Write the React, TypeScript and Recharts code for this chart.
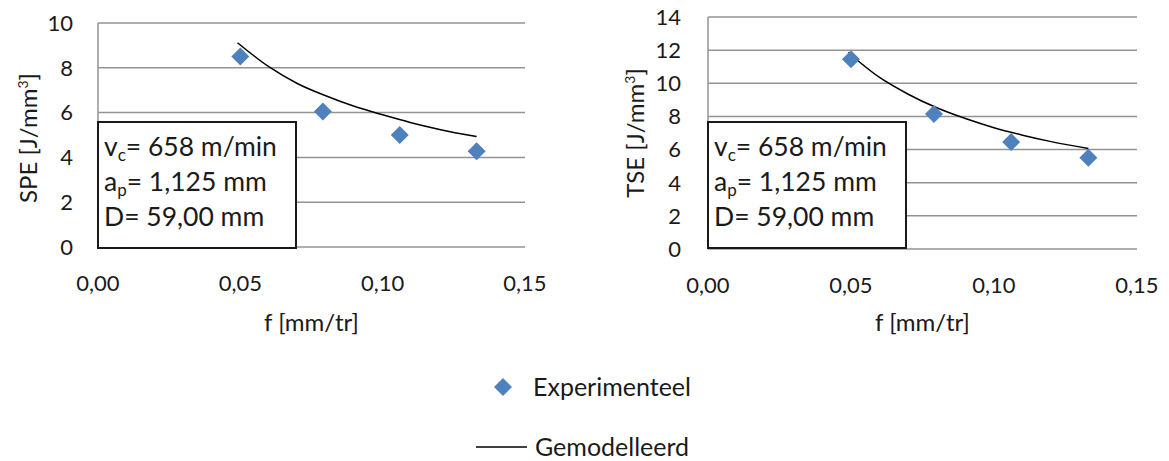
import React from "react"
import { ComposedChart, Line, Scatter, XAxis, YAxis, CartesianGrid } from "recharts"

// feed values for the measured points
const feed = [0.05, 0.079, 0.106, 0.133]
const speMeasured = [8.5, 6.05, 5.0, 4.28]
const tseMeasured = [11.45, 8.15, 6.45, 5.5]

// modelled curve
const fitFeed = [0.049, 0.06, 0.07, 0.08, 0.09, 0.1, 0.11, 0.12, 0.133]
const speModel = [9.12, 8.05, 7.3, 6.75, 6.28, 5.9, 5.55, 5.25, 4.93]
const tseModel = [11.86, 10.35, 9.34, 8.52, 7.87, 7.32, 6.87, 6.48, 6.07]

const xTicks = [0, 0.05, 0.1, 0.15]
const speTicks = [0, 2, 4, 6, 8, 10]
const tseTicks = [0, 2, 4, 6, 8, 10, 12, 14]

const FONT = "Lato, 'Open Sans', sans-serif"
const TEXT = "#1a1a1a"
const GRID = "#939393"
const BLUE = "#4F81BD"

const toPoints = (xs: number[], ys: number[]) => xs.map((f, i) => ({ f, y: ys[i] }))

const fmtX = (v: number) => v.toFixed(2).replace(".", ",")

function Diamond(props: any) {
  const { cx, cy } = props
  if (cx == null || cy == null) return null
  const r = 9
  return <path d={`M${cx},${cy - r}L${cx + r},${cy}L${cx},${cy + r}L${cx - r},${cy}Z`} fill={BLUE} />
}

function yTitle(name: string, baseX: number, centerY: number) {
  return () => (
    <text
      x={baseX}
      y={centerY}
      transform={`rotate(-90 ${baseX} ${centerY})`}
      textAnchor="middle"
      fontFamily={FONT}
      fontSize={24}
      fill={TEXT}
    >
      <tspan>{name} [J/mm</tspan>
      <tspan dy={-9} fontSize={14}>3</tspan>
      <tspan dy={9}>]</tspan>
    </text>
  )
}

function xTitle(props: any) {
  const vb = props.viewBox || {}
  const cx = vb.x + vb.width / 2
  return (
    <text x={cx} y={331} textAnchor="middle" fontFamily={FONT} fontSize={24} fill={TEXT}>
      f [mm/tr]
    </text>
  )
}

interface PanelProps {
  left: number
  width: number
  yAxisWidth: number
  margin: { top: number; right: number; bottom: number; left: number }
  yMax: number
  yTicks: number[]
  yTickMargin: number
  measured: { f: number; y: number }[]
  model: { f: number; y: number }[]
  title: string
  titleX: number
  titleY: number
}

function Panel(p: PanelProps) {
  return (
    <div style={{ position: "absolute", left: p.left, top: 0 }}>
      <ComposedChart width={p.width} height={340} margin={p.margin}>
        <CartesianGrid vertical={false} stroke={GRID} strokeWidth={1.5} />
        <XAxis
          type="number"
          dataKey="f"
          domain={[0, 0.15]}
          ticks={xTicks}
          tickFormatter={fmtX}
          axisLine={false}
          tickLine={false}
          tickMargin={22}
          height={60}
          tick={{ fontFamily: FONT, fontSize: 22, fill: TEXT }}
          label={xTitle}
        />
        <YAxis
          type="number"
          dataKey="y"
          domain={[0, p.yMax]}
          ticks={p.yTicks}
          width={p.yAxisWidth}
          axisLine={{ stroke: GRID, strokeWidth: 1.5 }}
          tickLine={false}
          tickMargin={p.yTickMargin}
          tick={{ fontFamily: FONT, fontSize: 22, fill: TEXT }}
          label={yTitle(p.title, p.titleX, p.titleY)}
        />
        <Scatter data={p.measured} dataKey="y" shape={Diamond} isAnimationActive={false} />
        <Line
          data={p.model}
          dataKey="y"
          type="monotone"
          stroke="#000"
          strokeWidth={1.5}
          dot={false}
          activeDot={false}
          isAnimationActive={false}
        />
      </ComposedChart>
    </div>
  )
}

function InfoBox({ left }: { left: number }) {
  const sub: React.CSSProperties = { fontSize: 17, verticalAlign: -5, lineHeight: 0 }
  return (
    <div
      style={{
        position: "absolute",
        left,
        top: 121,
        width: 200,
        height: 128,
        border: "2px solid #1a1a1a",
        background: "#fff",
        fontFamily: FONT,
        fontSize: 26.5,
        lineHeight: "35px",
        color: TEXT,
        padding: "6px 0 0 5px",
        boxSizing: "border-box",
        whiteSpace: "pre",
      }}
    >
      <div>
        v<span style={sub}>c</span>= 658 m/min
      </div>
      <div>
        a<span style={sub}>p</span>= 1,125 mm
      </div>
      <div>D= 59,00 mm</div>
    </div>
  )
}

function LegendBlock() {
  const label: React.CSSProperties = {
    position: "absolute",
    fontFamily: FONT,
    fontSize: 25,
    color: TEXT,
    lineHeight: "26px",
    whiteSpace: "nowrap",
  }
  return (
    <>
      <svg style={{ position: "absolute", left: 470, top: 370 }} width={70} height={90}>
        <path d="M33,8L42,17L33,26L24,17Z" fill={BLUE} />
        <line x1={6} y1={77} x2={57} y2={77} stroke="#000" strokeWidth={1.5} />
      </svg>
      <div style={{ ...label, left: 533, top: 373 }}>Experimenteel</div>
      <div style={{ ...label, left: 535, top: 433 }}>Gemodelleerd</div>
    </>
  )
}

export default function App() {
  return (
    <div style={{ position: "absolute", left: 0, top: 0, width: 1169, height: 461, background: "#fff" }}>
      <Panel
        left={0}
        width={560}
        yAxisWidth={98}
        margin={{ top: 23, right: 35, bottom: 33, left: 0 }}
        yMax={10}
        yTicks={speTicks}
        yTickMargin={19}
        measured={toPoints(feed, speMeasured)}
        model={toPoints(fitFeed, speModel)}
        title="SPE"
        titleX={37}
        titleY={138}
      />
      <Panel
        left={590}
        width={579}
        yAxisWidth={118}
        margin={{ top: 17, right: 32, bottom: 31, left: 0 }}
        yMax={14}
        yTicks={tseTicks}
        yTickMargin={21}
        measured={toPoints(feed, tseMeasured)}
        model={toPoints(fitFeed, tseModel)}
        title="TSE"
        titleX={54}
        titleY={133}
      />
      <InfoBox left={97} />
      <InfoBox left={707} />
      <LegendBlock />
    </div>
  )
}
